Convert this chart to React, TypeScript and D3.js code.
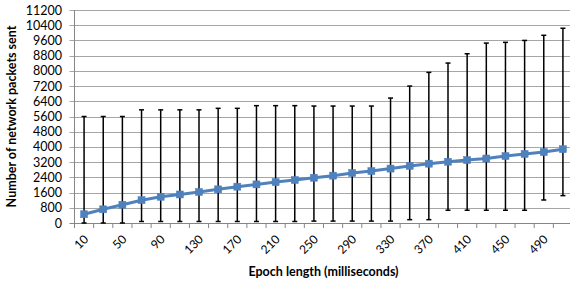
import React from "react";
import * as d3 from "d3";

const epochs = [10,30,50,70,90,110,130,150,170,190,210,230,250,270,290,310,330,350,370,390,410,430,450,470,490,510];
const packetsMean = [460,720,960,1200,1380,1500,1630,1770,1910,2030,2150,2260,2380,2490,2630,2730,2860,3000,3120,3220,3310,3390,3520,3630,3730,3880];
const packetsUpper = [5600,5600,5600,5950,5950,5950,5950,6030,6030,6170,6170,6170,6150,6150,6150,6150,6570,7200,7920,8410,8900,9460,9500,9600,9870,10240];
const packetsLower = [0,0,0,80,80,80,80,80,80,80,80,80,100,100,100,100,100,175,175,670,670,670,670,670,1210,1440];
const yTicks = [0,800,1600,2400,3200,4000,4800,5600,6400,7200,8000,8800,9600,10400,11200];

const W = 570, H = 283;
const left = 74.5, right = 572.5, top = 10, bottom = 223;
const font = "Lato, 'Open Sans', sans-serif";

export default function App() {
  const x = d3.scaleBand<number>().domain(epochs).range([left, right]).padding(0);
  const y = d3.scaleLinear().domain([0, 11200]).range([bottom, top]);
  const cx = (v: number) => (x(v) as number) + x.bandwidth() / 2;
  const line = d3.line<number>().x((_, i) => cx(epochs[i])).y((d) => y(d));
  const bounds = d3.range(epochs.length + 1).map((i) => left + i * x.bandwidth());

  return (
    <svg width={W} height={H} style={{ position: "absolute", left: 0, top: 0, background: "#fff" }}>
      {yTicks.map((t) => (
        <line key={"g" + t} x1={left - 5} x2={right} y1={Math.round(y(t)) + 0.5} y2={Math.round(y(t)) + 0.5}
          stroke={t === 0 ? "#868686" : "#a6a6a6"} strokeWidth={1} />
      ))}
      <line x1={left} x2={left} y1={top} y2={bottom} stroke="#868686" strokeWidth={1} />
      {bounds.map((b, i) => (
        <line key={"t" + i} x1={b} x2={b} y1={bottom} y2={bottom + 5} stroke="#868686" strokeWidth={1} />
      ))}
      {yTicks.map((t) => (
        <text key={"yl" + t} x={62} y={y(t)} dy="0.36em" textAnchor="end" fontFamily={font} fontSize={12.5} fill="#000">{t}</text>
      ))}
      {epochs.map((e, i) => i % 2 === 0 ? (
        <text key={"xl" + e} transform={`translate(${cx(e) + 5},${240}) rotate(-45)`} textAnchor="end"
          fontFamily={font} fontSize={12} fill="#000">{e}</text>
      ) : null)}
      {epochs.map((e, i) => {
        const xc = cx(e);
        return (
          <g key={"eb" + e} stroke="#000" strokeWidth={1.5}>
            <line x1={xc} x2={xc} y1={y(packetsUpper[i])} y2={y(packetsLower[i])} />
            <line x1={xc - 2.5} x2={xc + 2.5} y1={y(packetsUpper[i])} y2={y(packetsUpper[i])} />
            <line x1={xc - 2.5} x2={xc + 2.5} y1={y(packetsLower[i])} y2={y(packetsLower[i])} />
          </g>
        );
      })}
      <path d={line(packetsMean) || ""} fill="none" stroke="#4f81bd" strokeWidth={3} strokeLinejoin="round" />
      {packetsMean.map((v, i) => (
        <rect key={"m" + i} x={cx(epochs[i]) - 3.5} y={y(v) - 3.5} width={7} height={7} fill="#4f81bd" stroke="#4a7ebb" strokeWidth={0.5} />
      ))}
      <text transform={`translate(16,${(top + bottom) / 2}) rotate(-90)`} textAnchor="middle" fontFamily={font}
        fontWeight="bold" fontSize={12.5} fill="#000">Number of network packets sent</text>
      <text x={(left + right) / 2} y={276} textAnchor="middle" fontFamily={font} fontWeight="bold" fontSize={12.5} fill="#000">Epoch length (milliseconds)</text>
    </svg>
  );
}
